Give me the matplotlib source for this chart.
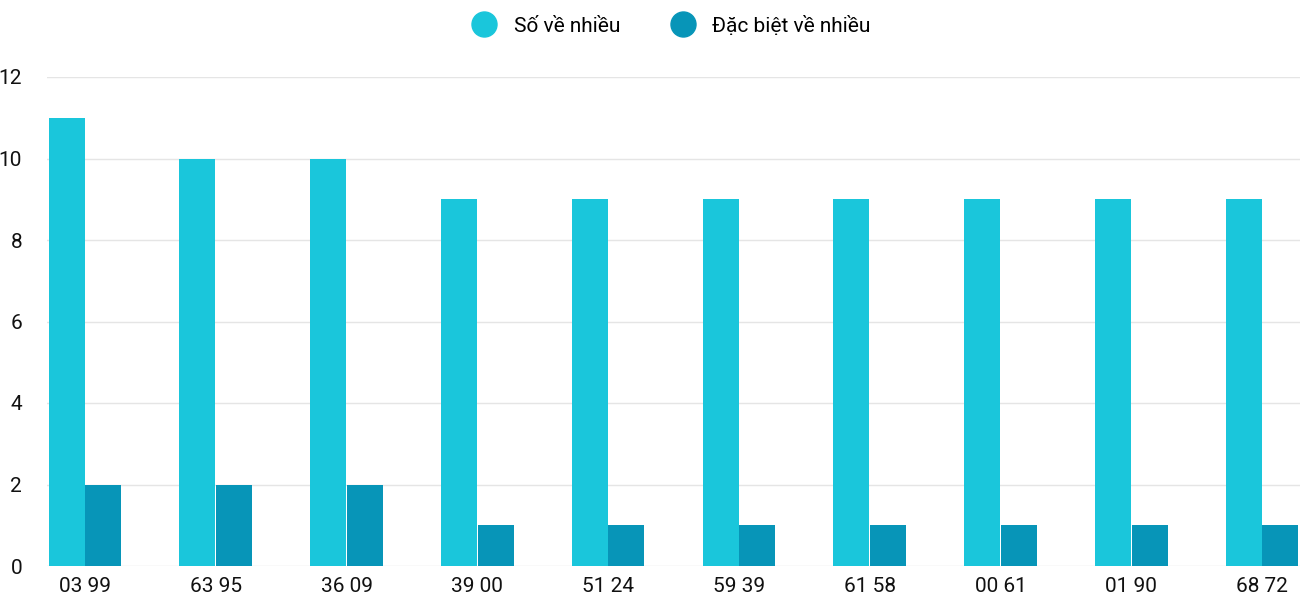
import numpy as np
import matplotlib.pyplot as plt

categories = ["03 99", "63 95", "36 09", "39 00", "51 24", "59 39", "61 58", "00 61", "01 90", "68 72"]
so_ve_nhieu = [11, 10, 10, 9, 9, 9, 9, 9, 9, 9]
dac_biet = [2, 2, 2, 1, 1, 1, 1, 1, 1, 1]

plt.rcParams["font.family"] = ["Roboto", "DejaVu Sans"]

fig = plt.figure(figsize=(13, 6), dpi=100)
ax = fig.add_axes([47 / 1300, 34 / 600, 1253 / 1300, 489 / 600])

x = np.arange(len(categories))
w = 0.275
ax.bar(x - 0.14, so_ve_nhieu, width=w, color="#1ac6db", label="Số về nhiều", zorder=3)
ax.bar(x + 0.14, dac_biet, width=w, color="#0795b8", label="Đặc biệt về nhiều", zorder=3)

ax.set_xlim(-0.29, 9.29)
ax.set_ylim(0, 12)
ax.set_yticks(range(0, 13, 2))
ax.set_xticks(x)
ax.set_xticklabels(categories)
ax.tick_params(axis="both", length=0, labelsize=15, colors="#111111")
ax.tick_params(axis="y", pad=18)
ax.tick_params(axis="x", pad=8)
ax.grid(axis="y", color="#e5e5e5", linewidth=1, zorder=0)
for s in ax.spines.values():
    s.set_visible(False)

fig.legend(handles=[
    plt.Line2D([], [], marker="o", ls="", ms=18, color="#1ac6db", label="Số về nhiều"),
    plt.Line2D([], [], marker="o", ls="", ms=18, color="#0795b8", label="Đặc biệt về nhiều"),
], loc="upper center", bbox_to_anchor=(0.513, 1.005), ncol=2, frameon=False,
    fontsize=15, handletextpad=0.4, columnspacing=2.0)

fig.savefig("out.png", dpi=100)
